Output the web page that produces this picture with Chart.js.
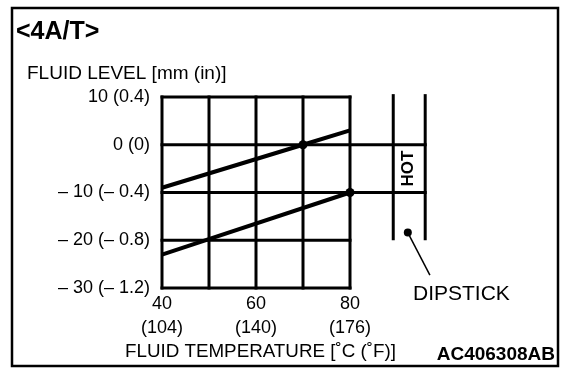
<!DOCTYPE html>
<html><head><meta charset="utf-8">
<script src="https://cdn.jsdelivr.net/npm/chart.js@4.4.0/dist/chart.umd.min.js"></script>
<style>html,body{margin:0;padding:0;background:#fff;} canvas{display:block;}</style>
</head><body>
<canvas id="c" width="576" height="376"></canvas>
<script>
// ---- data ----
const tempTicksC = [40, 60, 80];
const tempTicksF = ['(104)', '(140)', '(176)'];
const levelTicks = [10, 0, -10, -20, -30];
const levelTickLabels = ['10 (0.4)', '0 (0)', '– 10 (– 0.4)', '– 20 (– 0.8)', '– 30 (– 1.2)'];
const gridTemps = [40, 50, 60, 70, 80];
const upperTemp = [40, 70, 80];
const upperLevel = [-9, 0, 3];
const upperDots = [false, true, false];
const lowerTemp = [40, 80];
const lowerLevel = [-23, -10];
const lowerDots = [false, true];
const hotLevels = [0, -10];
const dipstickX = [89.2, 96];
const dipstickRange = [-20, 10.6];
const dipstickPoint = [92.3, -18.4];
const leaderEnd = [97, -27.3];

const FONT = '"Liberation Sans", Arial, Helvetica, sans-serif';
const BLACK = '#000';

const drawPlugin = {
  id: 'diagram',
  beforeDatasetsDraw(chart) {
    const ctx = chart.ctx, xs = chart.scales.x, ys = chart.scales.y;
    const X = v => xs.getPixelForValue(v), Y = v => ys.getPixelForValue(v);
    ctx.save();
    ctx.strokeStyle = BLACK; ctx.lineWidth = 3; ctx.lineCap = 'butt';
    gridTemps.forEach(t => {
      ctx.beginPath(); ctx.moveTo(X(t), Y(levelTicks[0]) - 1.5); ctx.lineTo(X(t), Y(levelTicks[levelTicks.length-1]) + 1.5); ctx.stroke();
    });
    levelTicks.forEach(l => {
      const end = hotLevels.includes(l) ? dipstickX[1] : gridTemps[gridTemps.length-1];
      ctx.beginPath(); ctx.moveTo(X(gridTemps[0]) - 1.5, Y(l)); ctx.lineTo(X(end) + 1.5, Y(l)); ctx.stroke();
    });
    dipstickX.forEach(d => {
      ctx.beginPath(); ctx.moveTo(X(d), Y(dipstickRange[1])); ctx.lineTo(X(d), Y(dipstickRange[0])); ctx.stroke();
    });
    ctx.lineWidth = 1.5;
    ctx.beginPath(); ctx.moveTo(X(dipstickPoint[0]), Y(dipstickPoint[1])); ctx.lineTo(X(leaderEnd[0]), Y(leaderEnd[1])); ctx.stroke();
    ctx.fillStyle = BLACK;
    ctx.beginPath(); ctx.arc(X(dipstickPoint[0]), Y(dipstickPoint[1]), 4, 0, Math.PI*2); ctx.fill();
    ctx.save();
    ctx.translate(X((dipstickX[0]+dipstickX[1])/2) - 1, Y((hotLevels[0]+hotLevels[1])/2));
    ctx.rotate(-Math.PI/2);
    ctx.font = 'bold 17px ' + FONT; ctx.textAlign = 'center'; ctx.textBaseline = 'middle';
    ctx.fillText('HOT', 0, 0);
    ctx.restore();
    ctx.restore();
  },
  afterDraw(chart) {
    const ctx = chart.ctx;
    ctx.save();
    ctx.strokeStyle = BLACK; ctx.lineWidth = 2.5;
    ctx.strokeRect(12, 8, 546, 358);
    ctx.fillStyle = BLACK; ctx.textBaseline = 'alphabetic';
    ctx.font = 'bold 25px ' + FONT; ctx.textAlign = 'left';
    ctx.fillText('<4A/T>', 16, 39);
    ctx.font = '19px ' + FONT;
    ctx.fillText('FLUID LEVEL [mm (in)]', 27, 79);
    ctx.font = '18.8px ' + FONT;
    ctx.fillText('FLUID TEMPERATURE [˚C (˚F)]', 125, 357);
    ctx.font = '21px ' + FONT;
    ctx.fillText('DIPSTICK', 413, 300);
    ctx.font = 'bold 19px ' + FONT; ctx.textAlign = 'right';
    ctx.fillText('AC406308AB', 555, 360);
    ctx.restore();
  }
};

const mk = (xs, ys, dots) => ({
  data: xs.map((x, i) => ({x, y: ys[i]})),
  showLine: true, borderColor: BLACK, borderWidth: 4,
  pointRadius: dots.map(d => d ? 4.5 : 0), pointBackgroundColor: BLACK,
  pointBorderWidth: 0, pointHoverRadius: 0, clip: false, tension: 0
});

new Chart(document.getElementById('c'), {
  type: 'scatter',
  data: { datasets: [mk(upperTemp, upperLevel, upperDots), mk(lowerTemp, lowerLevel, lowerDots)] },
  options: {
    responsive: false, animation: false, devicePixelRatio: 1,
    layout: { padding: { left: 0, top: 97, right: 132, bottom: 0 } },
    plugins: { legend: { display: false }, tooltip: { enabled: false }, title: { display: false } },
    scales: {
      x: {
        type: 'linear', min: 40, max: 100,
        grid: { display: false, drawTicks: false }, border: { display: false },
        afterBuildTicks: s => { s.ticks = tempTicksC.map(v => ({ value: v })); },
        afterFit: s => { s.height = 88; },
        ticks: {
          autoSkip: false, maxRotation: 0, color: BLACK, padding: 4,
          font: { family: FONT, size: 18, lineHeight: 1.35 },
          callback: v => { const i = tempTicksC.indexOf(v); return i < 0 ? '' : [String(v), tempTicksF[i]]; }
        }
      },
      y: {
        type: 'linear', min: -30, max: 10,
        grid: { display: false, drawTicks: false }, border: { display: false },
        afterBuildTicks: s => { s.ticks = levelTicks.map(v => ({ value: v })); },
        afterFit: s => { s.width = 162; },
        ticks: {
          autoSkip: false, color: BLACK, padding: 12,
          font: { family: FONT, size: 18 },
          callback: v => { const i = levelTicks.indexOf(v); return i < 0 ? '' : levelTickLabels[i]; }
        }
      }
    }
  },
  plugins: [drawPlugin]
});
</script>
</body></html>
